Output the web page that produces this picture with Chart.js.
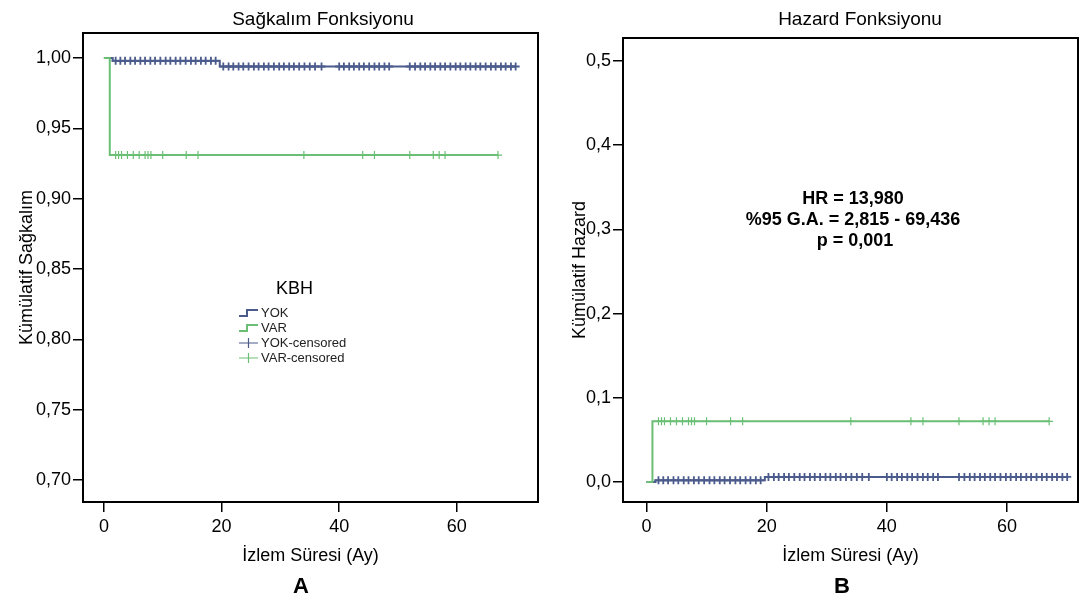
<!DOCTYPE html>
<html>
<head>
<meta charset="utf-8">
<script src="https://cdn.jsdelivr.net/npm/chart.js@4.4.1/dist/chart.umd.min.js"></script>
<style>
  body { margin: 0; background: #fff; font-family: "Liberation Sans", Arial, sans-serif; }
  #wrap { position: relative; width: 1086px; height: 601px; overflow: hidden; }
  canvas { position: absolute; top: 0; }
  .txt { position: absolute; white-space: nowrap; color: #000; transform: translate(-50%, -50%); }
  .ttl { font-size: 19px; }
  .panel { font-size: 22px; font-weight: bold; }
  .note { font-size: 18px; font-weight: bold; text-align: center; }
  #legend { position: absolute; left: 238px; top: 278px; font-size: 13px; color: #222; }
  #legend .head { font-size: 18px; margin-left: 38px; margin-bottom: 6px; color: #000; }
  #legend .row { height: 15px; line-height: 15px; display: flex; align-items: center; }
  #legend svg { width: 22px; height: 12px; margin-right: 1px; }
</style>
</head>
<body>
<div id="wrap">
  <canvas id="survChart" width="545" height="601" style="left:0"></canvas>
  <canvas id="hazChart" width="541" height="601" style="left:545px"></canvas>
  <div class="txt ttl" style="left:323px; top:19px">Sağkalım Fonksiyonu</div>
  <div class="txt ttl" style="left:860px; top:19px">Hazard Fonksiyonu</div>
  <div class="txt panel" style="left:301px; top:586px">A</div>
  <div class="txt panel" style="left:842px; top:586px">B</div>
  <div class="txt note" style="left:853px; top:198px">HR = 13,980</div>
  <div class="txt note" style="left:853px; top:219px">%95 G.A. = 2,815 - 69,436</div>
  <div class="txt note" style="left:855px; top:240px">p = 0,001</div>
  <div id="legend"></div>
</div>
<script>
const groups = ['YOK', 'VAR'];
const legendTitle = 'KBH';

// step curves: time of each step and the value after it
const yokTimes = [0, 1.5, 19.7, 70];
const yokSurv = [1, 0.998, 0.994, 0.994];
const yokHaz = [0, 0.002, 0.006, 0.006];
const varTimes = [0, 1, 67];
const varSurv = [1, 0.931, 0.931];
const varHaz = [0, 0.072, 0.072];

// censored observations (months)
const yokCensored = [2, 2.8, 3.6, 4.5, 5.3, 6.2, 7, 7.9, 8.7, 9.6, 10.5, 11.3, 12.2, 13, 13.9, 14.8,
  15.6, 16.5, 17.3, 18.2, 19,
  20.3, 21.2, 22, 22.9, 23.7, 24.6, 25.5, 26.3, 27.2, 28, 28.9, 29.8, 30.6, 31.5, 32.3, 33.2,
  34.1, 35, 35.9, 37,
  40, 40.8, 41.7, 42.5, 43.4, 44.2, 45.1, 46, 46.8, 47.7, 48.5,
  52, 52.9, 53.8, 54.6, 55.5, 56.3, 57.2, 58, 58.9, 59.8, 60.6, 61.5, 62.3, 63.2, 64, 64.9,
  65.8, 66.6, 67.5, 68.3, 69.2, 70];
const varCensored = [2, 2.5, 3, 4, 5, 6, 7, 7.5, 8, 10, 14, 16, 34, 44, 46, 52, 56, 57, 58, 67];

const survTicks = [0.70, 0.75, 0.80, 0.85, 0.90, 0.95, 1.00];
const hazTicks = [0.0, 0.1, 0.2, 0.3, 0.4, 0.5];
const timeTicks = [0, 20, 40, 60];

const blue = '#4b5b8c';
const green = '#6abf74';
const font = "'Liberation Sans', Arial, sans-serif";

const pts = (xs, ys) => xs.map((x, i) => ({ x: x, y: ys[i] }));
function stepAt(xs, ys, t) {
  let v = ys[0];
  for (let i = 0; i < xs.length; i++) if (xs[i] <= t) v = ys[i];
  return v;
}

const framePlugin = {
  id: 'frame',
  afterDraw(chart) {
    const { ctx, chartArea: a } = chart;
    ctx.save();
    ctx.strokeStyle = '#000';
    ctx.lineWidth = 2;
    ctx.strokeRect(a.left, a.top, a.right - a.left, a.bottom - a.top);
    ctx.restore();
  }
};

function makeDatasets(yokY, varY) {
  return [
    { label: groups[1], data: pts(varTimes, varY), showLine: true, stepped: true,
      borderColor: green, borderWidth: 2, pointRadius: 0 },
    { label: groups[0], data: pts(yokTimes, yokY), showLine: true, stepped: true,
      borderColor: blue, borderWidth: 2, pointRadius: 0 },
    { label: groups[1] + '-censored', data: varCensored.map(t => ({ x: t, y: stepAt(varTimes, varY, t) })),
      showLine: false, pointStyle: 'cross', pointRadius: 4, borderColor: green, borderWidth: 1.2 },
    { label: groups[0] + '-censored', data: yokCensored.map(t => ({ x: t, y: stepAt(yokTimes, yokY, t) })),
      showLine: false, pointStyle: 'cross', pointRadius: 4, borderColor: blue, borderWidth: 1.8 }
  ];
}

function makeOptions(cfg) {
  return {
    responsive: false,
    animation: false,
    layout: { padding: cfg.padding },
    plugins: { legend: { display: false }, tooltip: { enabled: false }, title: { display: false } },
    scales: {
      x: {
        type: 'linear', min: cfg.xMin, max: cfg.xMax,
        afterBuildTicks: s => { s.ticks = timeTicks.map(v => ({ value: v })); },
        afterFit: s => { s.height = cfg.xHeight; },
        ticks: { font: { family: font, size: 18 }, color: '#000', padding: 4 },
        grid: { display: true, drawOnChartArea: false, tickLength: 10, color: '#000', lineWidth: 1.5 },
        border: { display: false },
        title: { display: true, text: 'İzlem Süresi (Ay)', font: { family: font, size: 18 }, color: '#000',
          padding: { top: 0, bottom: 34 } }
      },
      y: {
        type: 'linear', min: cfg.yMin, max: cfg.yMax,
        afterBuildTicks: s => { s.ticks = cfg.yTicks.map(v => ({ value: v })); },
        afterFit: s => { s.width = cfg.yWidth; },
        ticks: { font: { family: font, size: 18 }, color: '#000', padding: 2,
          callback: v => v.toFixed(cfg.dec).replace('.', ',') },
        grid: { display: true, drawOnChartArea: false, tickLength: 10, color: '#000', lineWidth: 1.5 },
        border: { display: false },
        title: { display: true, text: cfg.yTitle, font: { family: font, size: 18 }, color: '#000',
          padding: { top: cfg.yTitlePad, bottom: 0 } }
      }
    }
  };
}

new Chart(document.querySelector('#survChart'), {
  type: 'scatter',
  data: { datasets: makeDatasets(yokSurv, varSurv) },
  options: makeOptions({
    padding: { top: 33, right: 7, left: 0, bottom: 0 },
    xMin: -3.55, xMax: 73.8, yMin: 0.6844, yMax: 1.0178,
    yTicks: survTicks, dec: 2, xHeight: 99, yWidth: 83, yTitlePad: 16,
    yTitle: 'Kümülatif Sağkalım'
  }),
  plugins: [framePlugin]
});

new Chart(document.querySelector('#hazChart'), {
  type: 'scatter',
  data: { datasets: makeDatasets(yokHaz, varHaz) },
  options: makeOptions({
    padding: { top: 38, right: 8, left: 0, bottom: 0 },
    xMin: -3.9, xMax: 71.8, yMin: -0.0238, yMax: 0.5273,
    yTicks: hazTicks, dec: 1, xHeight: 99, yWidth: 78, yTitlePad: 24,
    yTitle: 'Kümülatif Hazard'
  }),
  plugins: [framePlugin]
});

// legend drawn as html so it can sit inside the plot
const stepIcon = c => `<svg viewBox="0 0 22 12"><path d="M1 9 H9 V3 H20" fill="none" stroke="${c}" stroke-width="2"/></svg>`;
const crossIcon = c => `<svg viewBox="0 0 22 12"><path d="M1 6 H20 M10.5 1 V11" fill="none" stroke="${c}" stroke-width="1.2"/></svg>`;
document.querySelector('#legend').innerHTML =
  `<div class="head">${legendTitle}</div>` +
  `<div class="row">${stepIcon(blue)}${groups[0]}</div>` +
  `<div class="row">${stepIcon(green)}${groups[1]}</div>` +
  `<div class="row">${crossIcon(blue)}${groups[0]}-censored</div>` +
  `<div class="row">${crossIcon(green)}${groups[1]}-censored</div>`;
</script>
</body>
</html>
